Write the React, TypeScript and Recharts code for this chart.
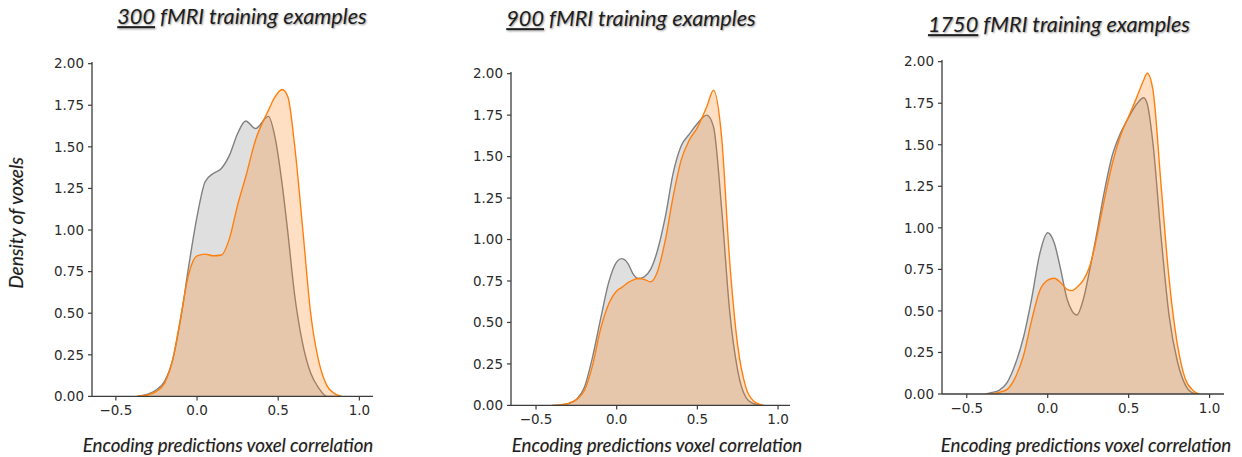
import { AreaChart, Area, XAxis, YAxis } from 'recharts'

const X_TICKS = [-0.5, 0, 0.5, 1.0]
const Y_TICKS = [0, 0.25, 0.5, 0.75, 1, 1.25, 1.5, 1.75, 2]
const COUNTS = ['300', '900', '1750']
const TITLE_REST = ' fMRI training examples'
const X_LABEL = 'Encoding predictions voxel correlation'
const Y_LABEL = 'Density of voxels'

// 300 examples
const P1_X = [-0.37, -0.3, -0.25, -0.2, -0.15, -0.1, -0.05, 0, 0.05, 0.1, 0.15, 0.2, 0.25, 0.3, 0.36, 0.44, 0.48, 0.525, 0.56, 0.6, 0.65, 0.7, 0.75, 0.8, 0.85, 0.89]
const P1_GRAY = [0, 0.015, 0.04, 0.09, 0.22, 0.47, 0.79, 1.08, 1.29, 1.34, 1.37, 1.45, 1.58, 1.655, 1.61, 1.683, 1.56, 1.27, 0.98, 0.62, 0.32, 0.14, 0.05, 0, 0, 0]
const P1_ORANGE = [0, 0.01, 0.03, 0.08, 0.22, 0.48, 0.74, 0.845, 0.855, 0.845, 0.85, 0.95, 1.15, 1.32, 1.54, 1.72, 1.8, 1.845, 1.8, 1.52, 1.02, 0.5, 0.21, 0.065, 0.015, 0]

// 900 examples
const P2_X = [-0.4, -0.35, -0.3, -0.25, -0.2, -0.15, -0.1, -0.05, 0, 0.03, 0.07, 0.1, 0.135, 0.17, 0.21, 0.25, 0.3, 0.35, 0.4, 0.45, 0.5, 0.558, 0.6, 0.65, 0.7, 0.75, 0.8, 0.85, 0.91]
const P2_GRAY = [0, 0.003, 0.01, 0.035, 0.11, 0.29, 0.52, 0.74, 0.865, 0.885, 0.855, 0.795, 0.765, 0.775, 0.82, 0.925, 1.13, 1.4, 1.565, 1.635, 1.7, 1.75, 1.68, 1.19, 0.57, 0.21, 0.05, 0.01, 0]
const P2_ORANGE = [0, 0.003, 0.012, 0.035, 0.09, 0.24, 0.46, 0.61, 0.69, 0.71, 0.74, 0.755, 0.765, 0.76, 0.745, 0.8, 0.99, 1.26, 1.48, 1.6, 1.675, 1.8, 1.9, 1.62, 0.87, 0.36, 0.11, 0.025, 0]

// 1750 examples
const P3_X = [-0.38, -0.35, -0.3, -0.25, -0.2, -0.15, -0.1, -0.05, 0, 0.04, 0.08, 0.12, 0.15, 0.18, 0.22, 0.26, 0.3, 0.35, 0.4, 0.45, 0.5, 0.55, 0.593, 0.615, 0.65, 0.7, 0.75, 0.8, 0.85, 0.9, 0.935]
const P3_GRAY = [0, 0.008, 0.022, 0.07, 0.18, 0.34, 0.57, 0.84, 0.97, 0.91, 0.75, 0.57, 0.5, 0.475, 0.57, 0.75, 0.95, 1.22, 1.44, 1.57, 1.665, 1.745, 1.783, 1.745, 1.51, 0.95, 0.47, 0.2, 0.055, 0.005, 0]
const P3_ORANGE = [0, 0.002, 0.01, 0.028, 0.1, 0.23, 0.44, 0.62, 0.685, 0.697, 0.67, 0.63, 0.622, 0.642, 0.685, 0.77, 0.93, 1.17, 1.39, 1.555, 1.67, 1.785, 1.89, 1.93, 1.83, 1.26, 0.69, 0.305, 0.09, 0.02, 0]

const toRows = (xs: number[], gray: number[], orange: number[]) =>
  xs.map((x, i) => ({ x, gray: gray[i], orange: orange[i] }))

// plot-area placement of each panel (px in the page)
const PANELS = [
  { rows: toRows(P1_X, P1_GRAY, P1_ORANGE), left: 92, right: 373, bottom: 396, top: 61.6, xDomain: [-0.647, 1.084] },
  { rows: toRows(P2_X, P2_GRAY, P2_ORANGE), left: 511, right: 790, bottom: 405, top: 71.6, xDomain: [-0.655, 1.074] },
  { rows: toRows(P3_X, P3_GRAY, P3_ORANGE), left: 942, right: 1224, bottom: 394, top: 60, xDomain: [-0.653, 1.089] },
]

const TITLE_POS = [[242, 17], [631, 19], [1059, 25]]
const XLABEL_POS = [[228, 445], [657, 445], [1086, 445]]

const Y_AXIS_W = 60
const X_AXIS_H = 40
const PAD = 10

const tickStyle = { fill: '#2b2b2b', fontSize: 13.5, fontFamily: 'DejaVu Sans' }
const fmtX = (v: number) => (v < 0 ? '\u2212' + Math.abs(v).toFixed(1) : v.toFixed(1))

const labelFont = {
  fontFamily: 'Lato, "Open Sans", sans-serif',
  fontStyle: 'italic' as const,
  color: '#1e1e1e',
  whiteSpace: 'nowrap' as const,
  lineHeight: 1,
  position: 'absolute' as const,
  textShadow: '0.5px 0.5px 1px rgba(0,0,0,0.25)',
}

function Panel({ p }: { p: typeof PANELS[number] }) {
  const w = p.right - p.left + Y_AXIS_W + PAD
  const h = p.bottom - p.top + PAD + X_AXIS_H
  return (
    <div style={{ position: 'absolute', left: p.left - Y_AXIS_W, top: p.top - PAD }}>
      <AreaChart width={w} height={h} data={p.rows} margin={{ top: PAD, right: PAD, left: 0, bottom: 0 }}>
        <XAxis
          type="number"
          dataKey="x"
          domain={p.xDomain}
          allowDataOverflow
          ticks={X_TICKS}
          tickFormatter={fmtX}
          tick={tickStyle}
          height={X_AXIS_H}
          tickSize={4}
          tickMargin={5}
          axisLine={{ stroke: '#3c3c3c', strokeWidth: 1.3 }}
          tickLine={{ stroke: '#3c3c3c', strokeWidth: 1.2 }}
        />
        <YAxis
          type="number"
          domain={[0, 2.01]}
          allowDataOverflow
          ticks={Y_TICKS}
          tickFormatter={(v: number) => v.toFixed(2)}
          tick={tickStyle}
          width={Y_AXIS_W}
          tickSize={4}
          tickMargin={4}
          axisLine={{ stroke: '#3c3c3c', strokeWidth: 1.3 }}
          tickLine={{ stroke: '#3c3c3c', strokeWidth: 1.2 }}
        />
        <Area
          dataKey="gray"
          type="monotone"
          stroke="#808080"
          strokeWidth={1.4}
          fill="#808080"
          fillOpacity={0.25}
          dot={false}
          activeDot={false}
          isAnimationActive={false}
        />
        <Area
          dataKey="orange"
          type="monotone"
          stroke="#ff7f0e"
          strokeWidth={1.4}
          fill="#ff7f0e"
          fillOpacity={0.25}
          dot={false}
          activeDot={false}
          isAnimationActive={false}
        />
      </AreaChart>
    </div>
  )
}

export default function App() {
  return (
    <div style={{ position: 'absolute', left: 0, top: 0, width: 1242, height: 457, background: '#fff', overflow: 'hidden' }}>
      {PANELS.map((p, i) => <Panel key={i} p={p} />)}
      {COUNTS.map((c, i) => (
        <div
          key={'t' + i}
          style={{
            ...labelFont,
            left: TITLE_POS[i][0],
            top: TITLE_POS[i][1],
            transform: 'translate(-50%, -50%)',
            fontSize: 21.7,
            textShadow: '1px 1px 2px rgba(0,0,0,0.4)',
          }}
        >
          <span style={{ textDecoration: 'underline' }}>{c}</span>{TITLE_REST}
        </div>
      ))}
      {XLABEL_POS.map((pos, i) => (
        <div
          key={'x' + i}
          style={{ ...labelFont, left: pos[0], top: pos[1], transform: 'translate(-50%, -50%)', fontSize: 18.6 }}
        >
          {X_LABEL}
        </div>
      ))}
      <div
        style={{ ...labelFont, left: 15, top: 223, transform: 'translate(-50%, -50%) rotate(-90deg)', fontSize: 19 }}
      >
        {Y_LABEL}
      </div>
    </div>
  )
}
